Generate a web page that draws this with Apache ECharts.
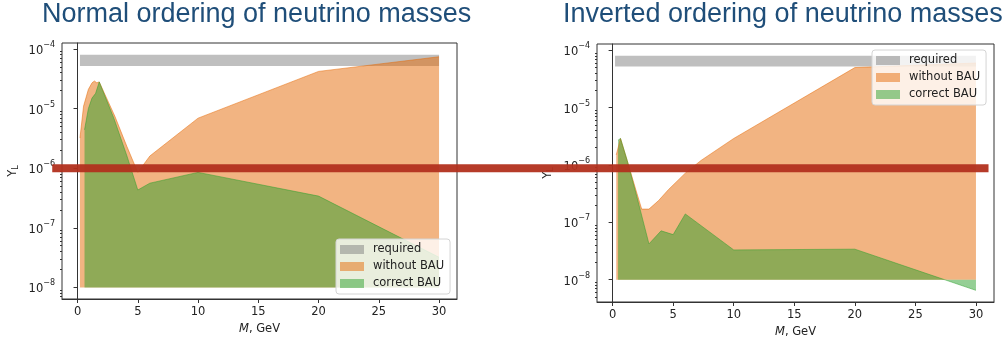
<!DOCTYPE html>
<html>
<head>
<meta charset="utf-8">
<script src="https://cdn.jsdelivr.net/npm/echarts@6/dist/echarts.min.js"></script>
<style>
html, body { margin: 0; padding: 0; background: #fff; }
#graph { width: 1008px; height: 344px; }
</style>
</head>
<body>
<div id="graph"></div>
<script>
"use strict"

// M in GeV, Y_L
const reqM = [0.2, 30];
const reqLo = 5.2e-5, reqHi = 8e-5;
const floorY = 1e-8;

const normNoBauM = [0.2, 0.5, 0.9, 1.2, 1.4, 1.6, 1.8, 3.1, 4.1, 5.0, 6.0, 10, 20, 30];
const normNoBauY = [3.2e-6, 1.1e-5, 2.1e-5, 2.7e-5, 2.9e-5, 2.7e-5, 2.8e-5, 7.4e-6, 2.3e-6, 8.5e-7, 1.6e-6, 6.9e-6, 4.2e-5, 7.4e-5];
const normBauM = [0.58, 0.9, 1.2, 1.5, 1.8, 3.0, 4.1, 5.0, 6.0, 10, 20, 30];
const normBauY = [4.4e-6, 1.0e-5, 1.5e-5, 1.8e-5, 2.8e-5, 7.0e-6, 1.6e-6, 4.3e-7, 5.6e-7, 8.5e-7, 3.4e-7, 3.2e-8];

const invNoBauM = [0.3, 0.65, 1.2, 1.9, 2.4, 3.0, 3.8, 4.6, 6.0, 7.3, 10, 20, 30];
const invNoBauY = [1.5e-6, 2.9e-6, 1.2e-6, 3.8e-7, 1.7e-7, 1.7e-7, 2.4e-7, 3.7e-7, 7.2e-7, 1.2e-6, 2.9e-6, 5.0e-5, 6.0e-5];
const invBauM = [0.45, 0.65, 1.2, 2.0, 3.0, 4.0, 5.0, 6.0, 10, 20, 30];
const invBauY = [2.7e-6, 2.9e-6, 1.2e-6, 2.8e-7, 4.2e-8, 7.1e-8, 6.1e-8, 1.4e-7, 3.3e-8, 3.4e-8, 6.5e-9];

// the red stroke across both panels, in left-panel M units
const markM = [-2.1, 75.6];
const markY = 1e-6;

const xTicks = [0, 5, 10, 15, 20, 25, 30];
const yDecades = [-8, -7, -6, -5, -4];
const titles = ["Normal ordering of neutrino masses", "Inverted ordering of neutrino masses"];
const names = ["required", "without BAU", "correct BAU"];

const cReq = "rgba(128,128,128,0.5)", cNo = "rgba(229,105,5,0.5)", cBau = "rgba(44,160,44,0.5)";
const axisCol = "#333", textCol = "#222", font = "DejaVu Sans";

const lg = v => Math.log10(v);
const pts = (ms, ys) => ms.map((m, i) => [m, lg(ys[i])]);

function band(name, idx, ms, ys, color, base, edge)
{
    return {
        name: name, type: "line", xAxisIndex: idx, yAxisIndex: idx * 2,
        data: pts(ms, ys), symbol: "none", silent: true,
        lineStyle: { color: color, width: edge },
        itemStyle: { color: color, borderWidth: 0 },
        areaStyle: { color: color, opacity: 1, origin: lg(base) }
    };
}

function xAxis(grid)
{
    return {
        type: "value", gridIndex: grid, min: -1.29, max: 31.49,
        name: "{it|M}, GeV", nameLocation: "middle", nameGap: 24,
        nameTextStyle: { color: textCol, fontFamily: font, fontSize: 11.5, rich: { it: { fontStyle: "italic", fontFamily: font, fontSize: 11.5, color: textCol } } },
        axisLine: { show: true, lineStyle: { color: axisCol } },
        axisTick: { show: true, customValues: xTicks, length: 4, lineStyle: { color: axisCol } },
        axisLabel: { customValues: xTicks, margin: 7, color: textCol, fontFamily: font, fontSize: 11.5 },
        splitLine: { show: false }
    };
}

function yAxes(grid, min, max)
{
    const minor = [];
    for (const d of [-9].concat(yDecades))
        for (let k = 2; k < 10; k++)
        {
            const v = d + Math.log10(k);
            if (v > min && v < max) minor.push(v);
        }
    return [{
        type: "value", gridIndex: grid, min: min, max: max, position: "left",
        name: "Y{sub|L}", nameLocation: "middle", nameGap: 42, nameRotate: 90,
        nameTextStyle: { color: textCol, fontFamily: font, fontSize: 11.5, rich: { sub: { fontSize: 8, fontFamily: font, color: textCol, verticalAlign: "bottom", padding: [6, 0, 0, 0] } } },
        axisLine: { show: true, lineStyle: { color: axisCol } },
        axisTick: { show: true, customValues: yDecades, length: 4, lineStyle: { color: axisCol } },
        axisLabel: {
            customValues: yDecades, margin: 7, color: textCol, fontFamily: font, fontSize: 11.5,
            formatter: v => "{b|10}{sup|\u2212" + (-v) + "}",
            rich: {
                b: { fontFamily: font, fontSize: 11.5, color: textCol, lineHeight: 16, verticalAlign: "bottom" },
                sup: { fontFamily: font, fontSize: 8, color: textCol, lineHeight: 16, verticalAlign: "top" }
            }
        },
        splitLine: { show: false }
    }, {
        type: "value", gridIndex: grid, min: min, max: max, position: "left", offset: 0,
        axisLine: { show: false }, axisLabel: { show: false }, splitLine: { show: false },
        axisTick: { show: true, customValues: minor, length: 2, lineStyle: { color: axisCol } }
    }];
}

function legend(left, top)
{
    const cols = [cReq, cNo, cBau];
    return {
        orient: "vertical", left: left, top: top, z: 20,
        icon: "rect", itemWidth: 24, itemHeight: 9, itemGap: 4,
        padding: [4, 6, 4, 4],
        backgroundColor: "rgba(255,255,255,0.8)", borderColor: "#d4d4d4", borderWidth: 1, borderRadius: 3,
        textStyle: { color: textCol, fontFamily: font, fontSize: 11.5, lineHeight: 13, padding: [0, 0, 0, 4] },
        selectedMode: false,
        data: names.map((n, i) => ({ name: n, itemStyle: { color: cols[i], borderWidth: 0 } }))
    };
}

// a full-width overlay grid that keeps the left panel's M and Y_L scales,
// so the red stroke can run across both panels
const pxPerM = 395 / (31.49 + 1.29);
const overlayX = { type: "value", gridIndex: 2, show: false, min: -1.29 - 62 / pxPerM, max: 31.49 + (1008 - 457) / pxPerM };
const overlayY = { type: "value", gridIndex: 2, show: false, min: -8.195, max: -3.9 };

const series = [
    band(names[0], 0, reqM, [reqHi, reqHi], cReq, reqLo, 0),
    band(names[1], 0, normNoBauM, normNoBauY, cNo, floorY, 1),
    band(names[2], 0, normBauM, normBauY, cBau, floorY, 1),
    band(names[0], 1, reqM, [reqHi, reqHi], cReq, reqLo, 0),
    band(names[1], 1, invNoBauM, invNoBauY, cNo, floorY, 1),
    band(names[2], 1, invBauM, invBauY, cBau, floorY, 1),
    {
        type: "line", xAxisIndex: 2, yAxisIndex: 4, silent: true, z: 10,
        data: markM.map(m => [m, lg(markY)]), symbol: "none",
        lineStyle: { color: "#b2301d", width: 8, opacity: 0.95 }
    }
];

const option = {
    animation: false,
    backgroundColor: "#fff",
    title: titles.map((t, i) => ({
        text: t, left: i == 0 ? 42 : 563, top: 1, padding: 0,
        textStyle: { fontFamily: "Liberation Sans", fontSize: 27, fontWeight: "normal", color: "#1f4e79" }
    })),
    grid: [
        { left: 62, top: 43, width: 395, height: 256, show: true, borderColor: axisCol, borderWidth: 1 },
        { left: 597, top: 44, width: 397, height: 258, show: true, borderColor: axisCol, borderWidth: 1 },
        { left: 0, top: 43, width: 1008, height: 256, show: false }
    ],
    xAxis: [xAxis(0), xAxis(1), overlayX],
    yAxis: yAxes(0, -8.195, -3.9).concat(yAxes(1, -8.39, -3.89)).concat([overlayY]),
    legend: [legend(336, 239), legend(872, 50)],
    series: series
};

const myChart = echarts.init(document.getElementById("graph"), null, { renderer: "canvas" });
myChart.setOption(option);
</script>
</body>
</html>
